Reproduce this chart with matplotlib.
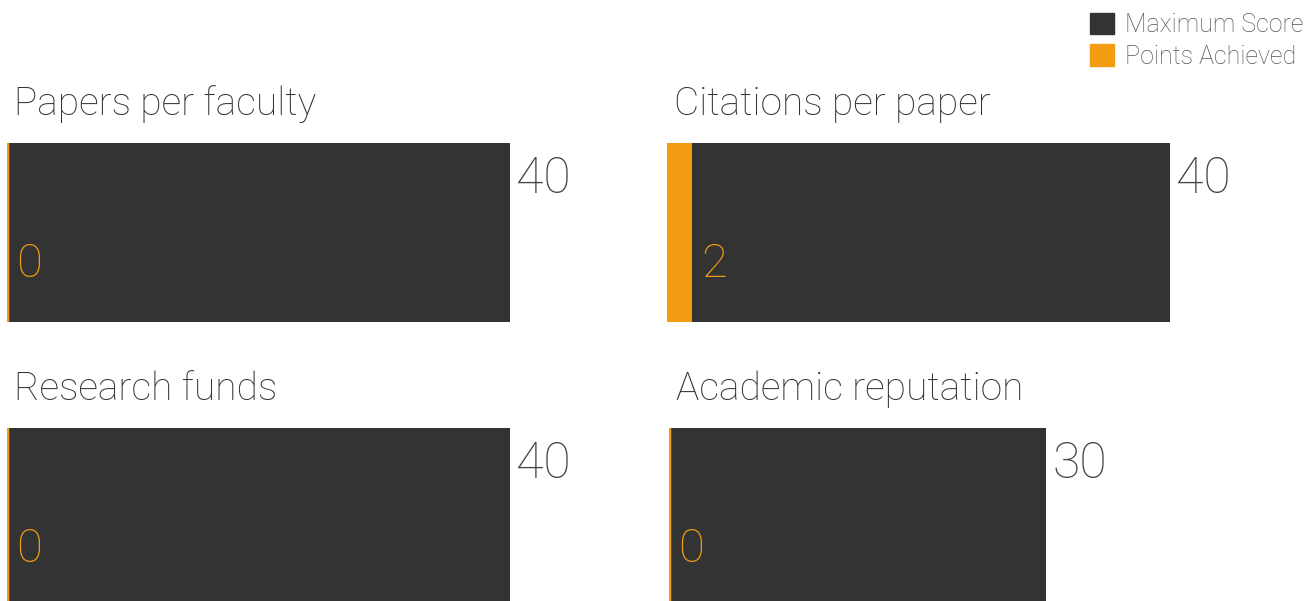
import matplotlib
matplotlib.use("Agg")
import matplotlib.pyplot as plt
from matplotlib.patches import Patch

# Data
categories = ["Papers per faculty", "Citations per paper", "Research funds", "Academic reputation"]
max_scores = [40, 40, 40, 30]
achieved = [0, 2, 0, 0]

dark = "#333333"
orange = "#F39C12"
plt.rcParams["font.family"] = ["Roboto", "DejaVu Sans"]
plt.rcParams["font.weight"] = "light"

W, H = 1316, 601
fig = plt.figure(figsize=(W / 100, H / 100), dpi=100)

# panel boxes in pixels: left, top (from top of image)
boxes = [(7, 143), (667, 143), (7, 428), (669, 428)]
bw, bh = 503, 179

for cat, mx, pts, (left, top) in zip(categories, max_scores, achieved, boxes):
    ax = fig.add_axes([left / W, (H - top - bh) / H, bw / W, bh / H])
    ax.barh(0, mx, height=1, color=dark, align="edge")
    ax.barh(0, pts, height=1, color=orange, align="edge")
    ax.axvline(0, color=orange, lw=2.5)
    ax.set_xlim(0, 40)
    ax.set_ylim(0, 1)
    ax.axis("off")

    ax.annotate(str(mx), xy=(mx, 1), xycoords=("data", "axes fraction"),
                xytext=(6, -36), textcoords="offset pixels",
                va="center", ha="left", fontsize=36, color="#444444")
    ax.annotate(str(pts), xy=(pts, 0), xycoords=("data", "axes fraction"),
                xytext=(9, 58), textcoords="offset pixels",
                va="center", ha="left", fontsize=34, color=orange)
    fig.text((left + 7) / W, (H - top + 39) / H, cat, fontsize=28,
             color=dark, va="center", ha="left")

handles = [Patch(color=dark, label="Maximum Score"),
           Patch(color=orange, label="Points Achieved")]
fig.legend(handles=handles, loc="upper right", bbox_to_anchor=(1.0, 1.0),
           frameon=False, fontsize=18, handlelength=0.95, handleheight=0.95,
           handletextpad=0.45, labelspacing=0.3, labelcolor="#555555",
           borderaxespad=0.1)

fig.savefig("out.png", dpi=100)
